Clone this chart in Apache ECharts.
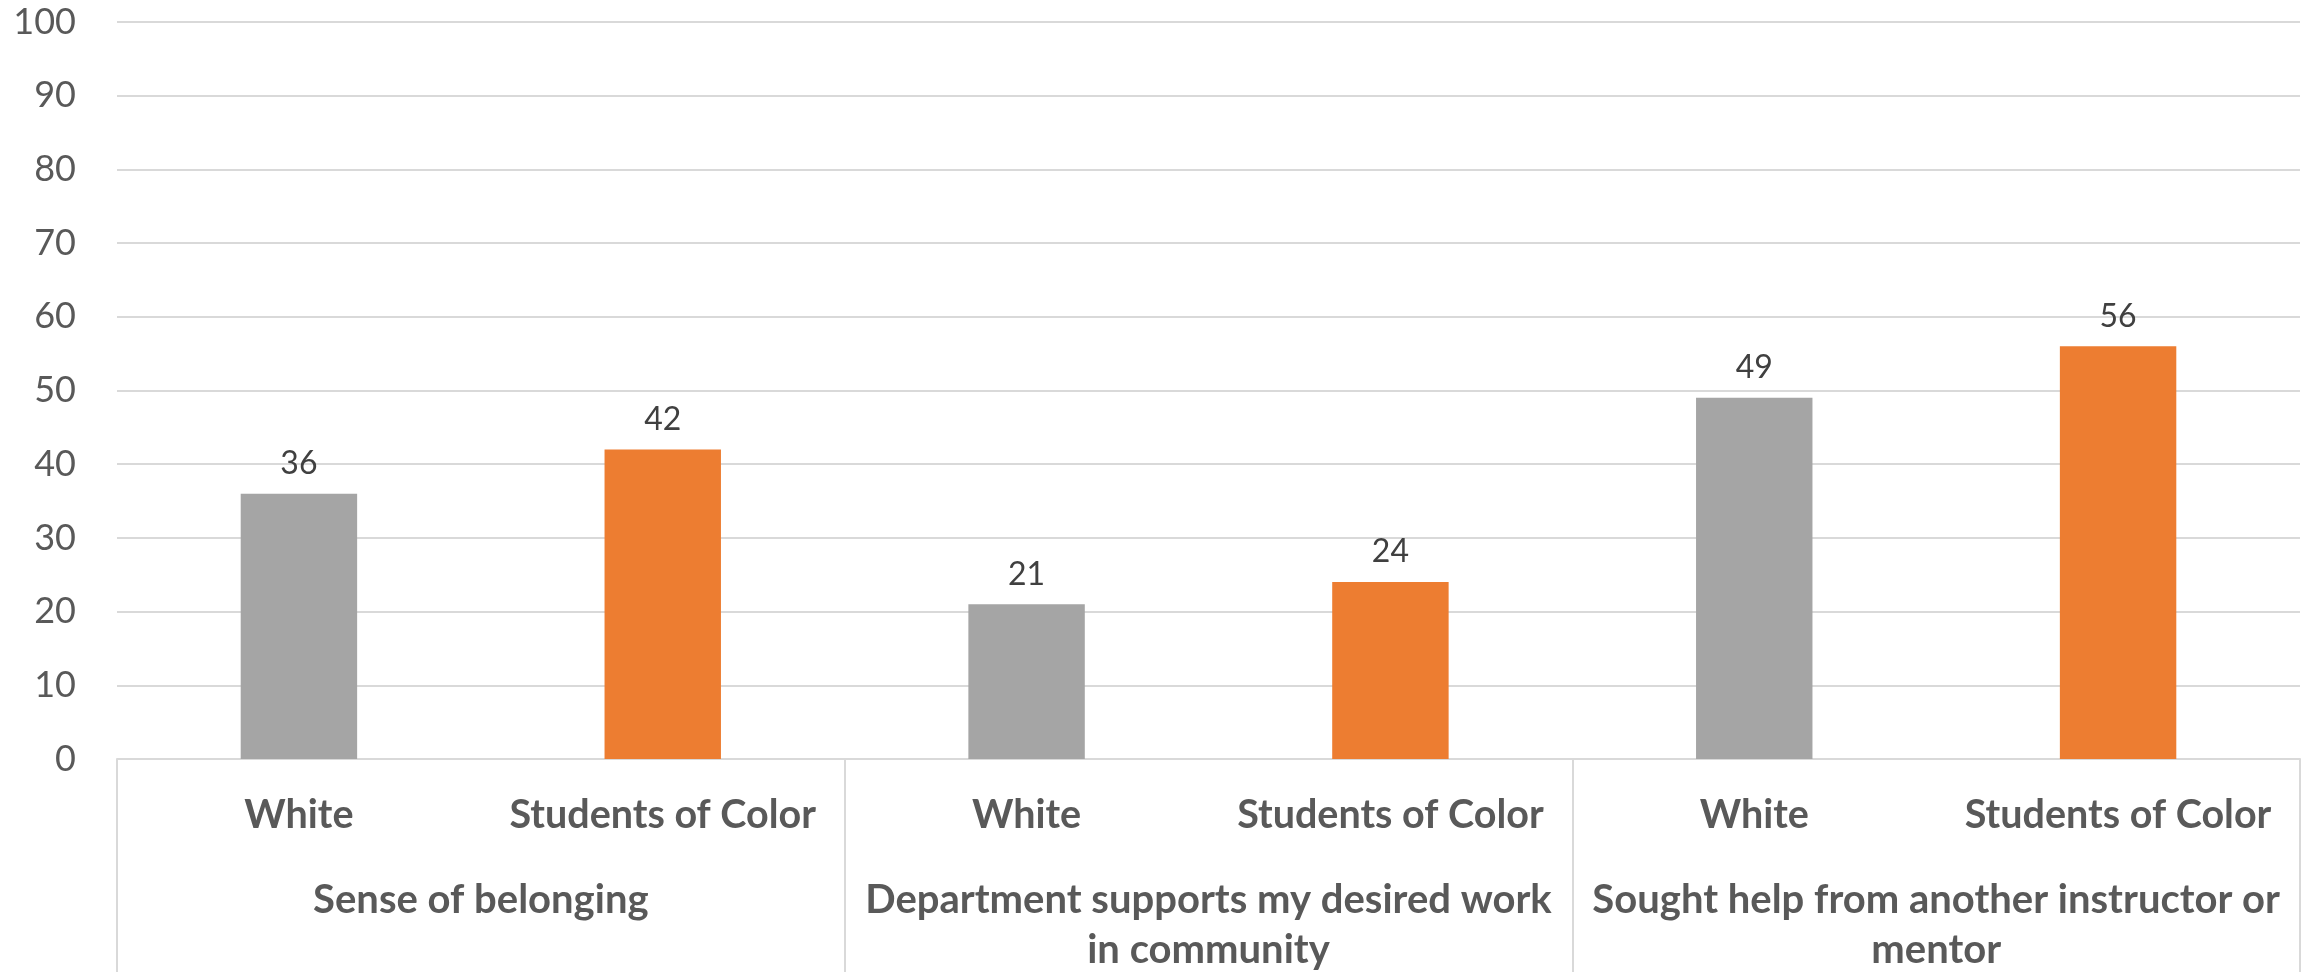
<!DOCTYPE html>
<html>
<head>
<meta charset="utf-8">
<title>Students by group</title>
<script src="https://cdn.jsdelivr.net/npm/echarts@6/dist/echarts.min.js"></script>
<style>
  html, body { margin: 0; padding: 0; background: #ffffff; }
  #chart { width: 2306px; height: 975px; }
</style>
</head>
<body>
<div id="chart"></div>
<script>
// Survey items (outer axis level), with their drawn line breaks
const groups = [
  'Sense of belonging',
  'Department supports my desired work\nin community',
  'Sought help from another instructor or\nmentor'
];
// Student groups (inner axis level)
const subgroups = ['White', 'Students of Color'];
// Percent values per survey item
const whiteValues = [36, 21, 49];
const colorValues = [42, 24, 56];
// Value axis ticks
const yMin = 0, yMax = 100, yStep = 10;

const barColors = ['#a5a5a5', '#ed7d31'];
const FONT = 'Lato, "Noto Sans", sans-serif';

// Flatten into one category per bar: item1/White, item1/SoC, item2/White, ...
const innerCats = [];
const barData = [];
groups.forEach((g, i) => {
  [whiteValues[i], colorValues[i]].forEach((v, j) => {
    innerCats.push(subgroups[j]);
    barData.push({ value: v, itemStyle: { color: barColors[j] } });
  });
});

const chart = echarts.init(document.getElementById('chart'), null, { renderer: 'canvas' });
chart.setOption({
  backgroundColor: '#ffffff',
  animation: false,
  grid: { left: 117, right: 6, top: 22, bottom: 213, containLabel: false },
  xAxis: [
    {
      type: 'category',
      data: innerCats,
      position: 'bottom',
      axisLine: { show: true, lineStyle: { color: '#d9d9d9', width: 2 } },
      axisTick: { show: false },
      axisLabel: {
        interval: 0, margin: 36, fontFamily: FONT, fontWeight: 'bold', fontSize: 39.5,
        color: '#595959', lineHeight: 40
      }
    },
    {
      type: 'category',
      data: groups,
      position: 'bottom',
      axisLine: { show: false },
      axisTick: { show: true, interval: 0, length: 213, lineStyle: { color: '#d9d9d9', width: 2 } },
      axisLabel: {
        interval: 0, margin: 116, fontFamily: FONT, fontWeight: 'bold', fontSize: 40,
        color: '#595959', lineHeight: 50, align: 'center'
      }
    }
  ],
  yAxis: {
    type: 'value',
    min: yMin, max: yMax, interval: yStep,
    axisLine: { show: false },
    axisTick: { show: false },
    splitLine: { lineStyle: { color: '#d9d9d9', width: 2 } },
    axisLabel: { margin: 41, fontFamily: FONT, fontSize: 36, color: '#595959' }
  },
  series: [{
    type: 'bar',
    xAxisIndex: 0,
    data: barData,
    barWidth: '32%',
    label: {
      show: true, position: 'top', distance: 14,
      fontFamily: FONT, fontSize: 32, color: '#404040'
    }
  }]
});
</script>
</body>
</html>
